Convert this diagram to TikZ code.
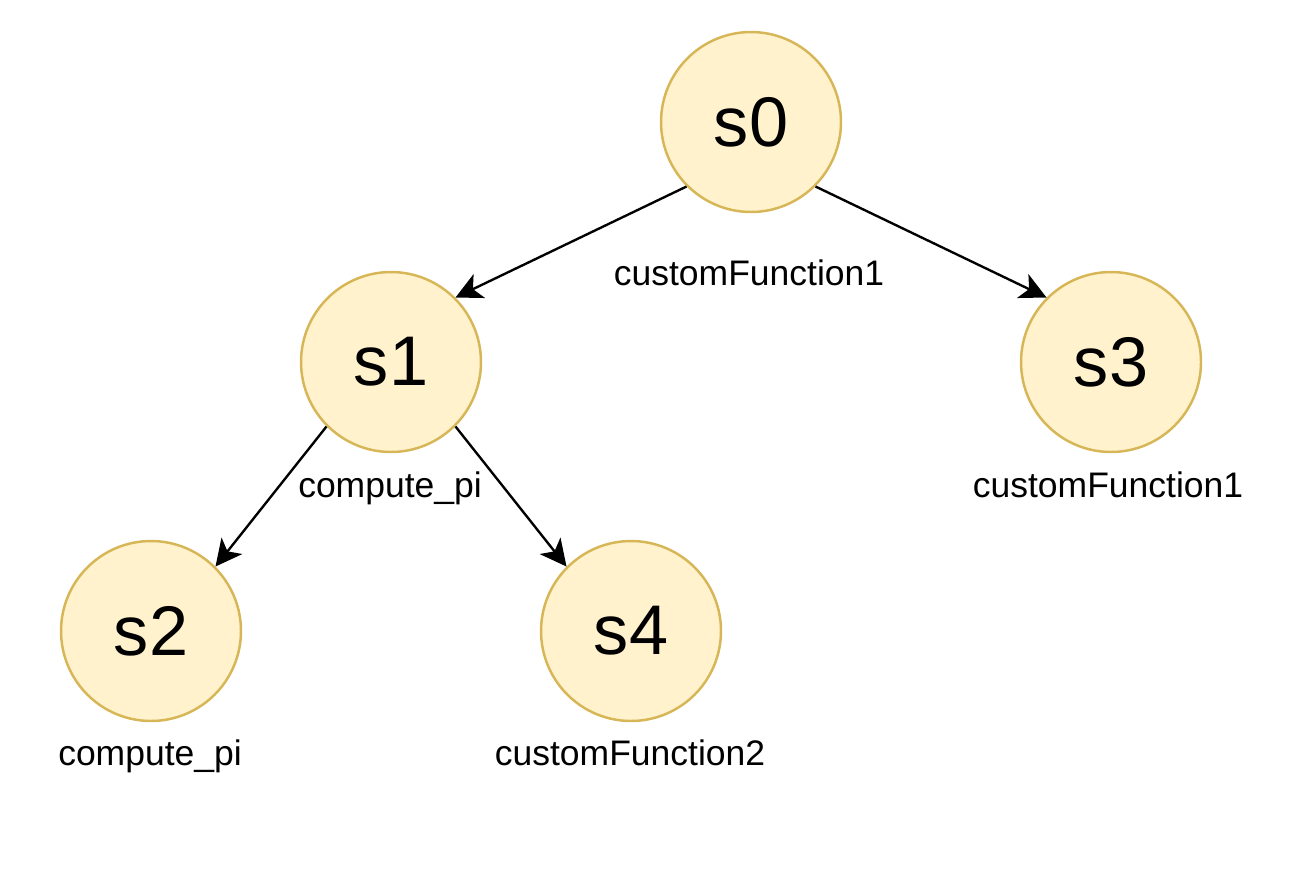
\documentclass[tikz,border=0pt]{standalone}
\usepackage{fontspec}
\setmainfont{Liberation Sans}
\usetikzlibrary{arrows.meta}
\definecolor{nodefill}{HTML}{FFF2CC}
\definecolor{nodeline}{HTML}{D6B656}
\begin{document}
\begin{tikzpicture}[x=0.02cm,y=-0.02cm,
  state/.style={circle,draw=nodeline,fill=nodefill,line width=1.4pt,minimum size=3.6cm,inner sep=0pt,font=\fontsize{40}{48}\selectfont},
  lbl/.style={anchor=base,inner sep=0pt,font=\fontsize{20.2}{24}\selectfont},
  edge/.style={line width=1.35pt,-{Stealth[length=15pt,width=15pt,inset=4pt]}}]
\useasboundingbox (0,0) rectangle (1293,873);
\node[state] (s0) at (751,122) {s0};
\node[state] (s1) at (391,362) {s1};
\node[state] (s3) at (1111,362) {s3};
\node[state] (s2) at (151,631) {s2};
\node[state] (s4) at (631,631) {s4};
\node[lbl] (l0) at (749,285) {customFunction1};
\node[lbl] (l1) at (390,497) {compute\_pi};
\node[lbl] (l3) at (1108,497) {customFunction1};
\node[lbl] (l2) at (150,765) {compute\_pi};
\node[lbl] (l4) at (630,765) {customFunction2};
\draw[edge] (s0.225) -- (s1.45);
\draw[edge] (s0.315) -- (s3.135);
\draw[edge] (s1.225) -- (s2.45);
\draw[edge] (s1.315) -- (s4.135);
\end{tikzpicture}
\end{document}
